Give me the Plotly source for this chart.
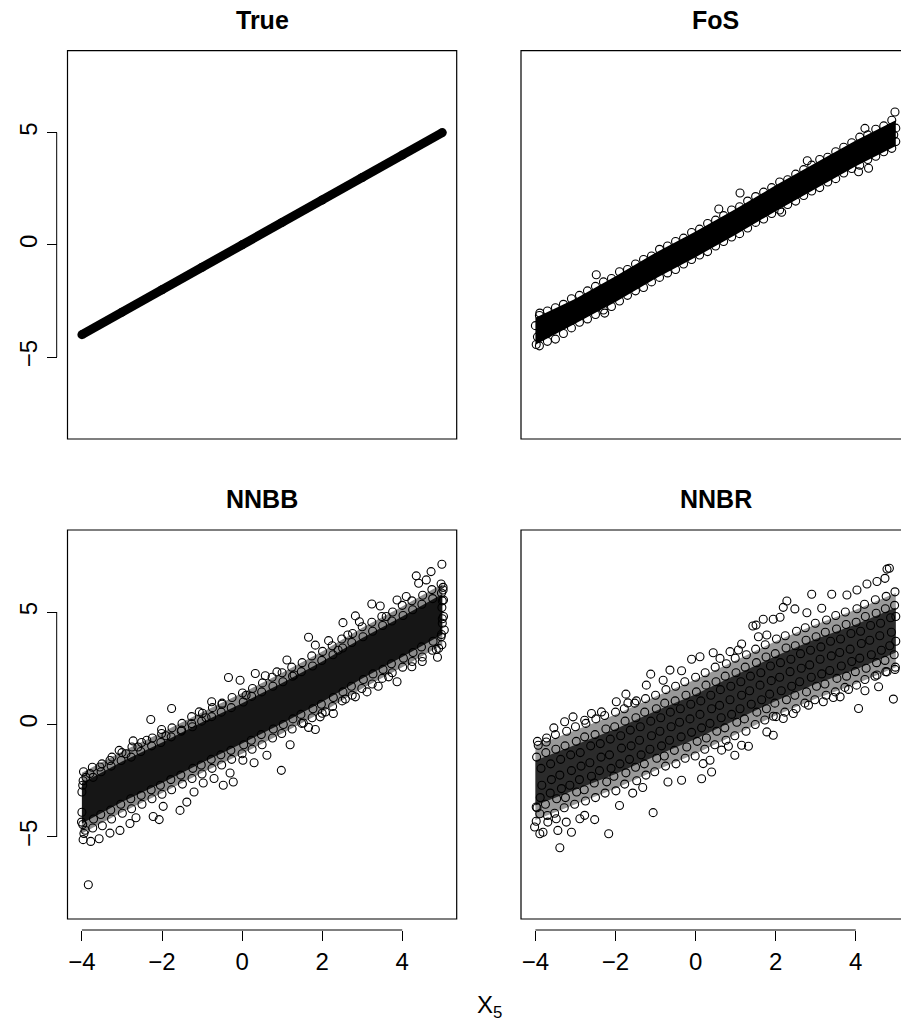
import plotly.graph_objects as go

W, H = 901, 1025

# ---------------- data ----------------
true_x = [-4, -3, -2, -1, 0, 1, 2, 3, 4, 5]
true_y = [-4, -3, -2, -1, 0, 1, 2, 3, 4, 5]

band_x = [-4, -3, -2, -1, 0, 1, 2, 3, 4, 5]

# FoS: solid core of overlapping circles, and the circles along / outside its edges
fos_lo = [-4.45, -3.5, -2.55, -1.5, -0.55, 0.45, 1.5, 2.5, 3.5, 4.4]
fos_hi = [-3.25, -2.4, -1.4, -0.35, 0.6, 1.6, 2.65, 3.65, 4.65, 5.55]
fos_pts = [
    (-3.9, -3.15), (-3.7, -2.95), (-3.5, -2.8), (-3.3, -2.65), (-3.1, -2.4), (-2.9, -2.25),
    (-2.7, -2.05), (-2.5, -1.85), (-2.3, -1.65), (-2.1, -1.5), (-1.9, -1.2), (-1.7, -1.1),
    (-1.5, -0.85), (-1.3, -0.65), (-1.1, -0.5), (-0.9, -0.2), (-0.7, -0.05), (-0.5, 0.15),
    (-0.3, 0.3), (-0.1, 0.55), (0.1, 0.7), (0.3, 0.95), (0.5, 1.1), (0.7, 1.3), (0.9, 1.55),
    (1.1, 1.7), (1.3, 1.95), (1.5, 2.15), (1.7, 2.35), (1.9, 2.55), (2.1, 2.8), (2.3, 2.9),
    (2.5, 3.15), (2.7, 3.35), (2.9, 3.55), (3.1, 3.8), (3.3, 3.9), (3.5, 4.15), (3.7, 4.35),
    (3.9, 4.55), (4.1, 4.8), (4.3, 4.9), (4.5, 5.15), (4.7, 5.3), (4.9, 5.55),
    (-3.9, -4.5), (-3.7, -4.3), (-3.5, -4.2), (-3.3, -3.95), (-3.1, -3.7), (-2.9, -3.45),
    (-2.7, -3.3), (-2.5, -3.1), (-2.3, -2.9), (-2.1, -2.75), (-1.9, -2.5), (-1.7, -2.25),
    (-1.5, -2.05), (-1.3, -1.9), (-1.1, -1.65), (-0.9, -1.45), (-0.7, -1.25), (-0.5, -1.1),
    (-0.3, -0.85), (-0.1, -0.65), (0.1, -0.45), (0.3, -0.3), (0.5, -0.05), (0.7, 0.15),
    (0.9, 0.35), (1.1, 0.5), (1.3, 0.75), (1.5, 1.0), (1.7, 1.15), (1.9, 1.4), (2.1, 1.55),
    (2.3, 1.8), (2.5, 1.95), (2.7, 2.2), (2.9, 2.4), (3.1, 2.55), (3.3, 2.8), (3.5, 2.95),
    (3.7, 3.2), (3.9, 3.4), (4.1, 3.55), (4.3, 3.8), (4.5, 3.95), (4.7, 4.15), (4.9, 4.3),
    (1.11, 2.31), (0.58, 1.6), (2.79, 3.75), (2.15, 1.45), (4.07, 3.26), (4.32, 3.41),
    (4.98, 5.92), (4.23, 5.19), (-2.48, -1.33), (-2.27, -3.04), (-3.98, -4.44), (-3.89, -3.04),
    (5.0, 4.6), (5.0, 5.2), (4.95, 4.9), (-4.0, -3.6), (-3.95, -4.1),
]

# NNBB: dense core (inner), looser zone (outer), circles at the edges and outliers
nnbb_in_lo = [-4.4, -3.45, -2.6, -1.7, -0.85, 0.05, 1.0, 2.05, 3.0, 4.0]
nnbb_in_hi = [-2.6, -1.65, -0.8, 0.1, 0.95, 1.85, 2.8, 3.85, 4.8, 5.8]
nnbb_out_lo = [-4.85, -3.9, -3.05, -2.15, -1.3, -0.4, 0.55, 1.6, 2.55, 3.55]
nnbb_out_hi = [-2.15, -1.2, -0.35, 0.55, 1.4, 2.3, 3.25, 4.3, 5.25, 6.25]
nnbb_pts = [
    (-3.8, -2.18), (-3.55, -1.89), (-3.3, -1.6), (-3.07, -1.15), (-2.9, -1.3), (-2.72, -0.73),
    (-2.6, -1.0), (-2.38, -0.70), (-2.28, 0.22), (-2.01, -0.22), (-1.9, -0.5), (-1.76, 0.71),
    (-1.51, -0.25), (-1.26, 0.04), (-1.07, 0.56), (-0.9, 0.3), (-0.76, 1.01), (-0.5, 0.9),
    (-0.34, 2.09), (-0.05, 1.97), (0.1, 1.3), (0.33, 2.27), (0.58, 2.17), (0.87, 2.34),
    (1.12, 2.87), (1.3, 2.2), (1.66, 3.88), (1.83, 3.53), (2.16, 3.73), (2.4, 3.3), (2.52, 4.53),
    (2.64, 3.98), (2.83, 4.83), (2.93, 4.57), (3.24, 5.36), (3.45, 5.27), (3.6, 4.8), (3.87, 5.54),
    (4.1, 5.69), (4.35, 6.61), (4.41, 6.28), (4.6, 6.43), (4.72, 6.8), (4.99, 7.13), (5.02, 5.98),
    (5.03, 5.54), (5.03, 4.8),
    (-3.84, -7.13), (-3.97, -5.12), (-3.78, -5.2), (-3.57, -5.08), (-4.01, -4.34), (-3.3, -4.83),
    (-3.05, -4.71), (-2.8, -4.4), (-2.65, -4.15), (-2.22, -4.09), (-2.07, -4.23), (-1.97, -3.64),
    (-1.55, -3.82), (-1.38, -3.45), (-1.2, -3.0), (-0.97, -2.6), (-0.7, -2.4), (-0.47, -2.7),
    (-0.3, -2.16), (-0.22, -2.56), (0.02, -1.59), (0.3, -1.7), (0.62, -1.37), (0.98, -2.04),
    (1.2, -0.9), (1.53, 0.07), (1.66, -0.13), (1.83, -0.22), (1.95, 0.34), (2.08, 0.56),
    (2.28, 0.49), (2.58, 1.13), (2.83, 1.23), (3.12, 1.45), (3.4, 1.7), (3.66, 2.12), (3.87, 1.9),
    (4.24, 2.57), (4.5, 2.8), (4.85, 3.34), (4.88, 2.99), (4.91, 3.39), (5.05, 4.2),
]
nnbb_edge = [
    (-3.97, -2.5), (-3.96, -2.1), (-3.98, -4.45), (-3.95, -4.85), (-3.9, -2.35), (-3.92, -4.7),
    (-3.72, -2.35), (-3.74, -1.9), (-3.71, -4.2), (-3.73, -4.6), (-3.52, -2.1), (-3.5, -1.75),
    (-3.53, -4.0), (-3.49, -4.5), (-3.27, -1.85), (-3.25, -1.45), (-3.28, -3.8), (-3.26, -4.2),
    (-3.02, -1.6), (-3.0, -1.25), (-3.03, -3.55), (-2.99, -3.95), (-2.77, -1.45), (-2.75, -1.0),
    (-2.78, -3.3), (-2.76, -3.75), (-2.53, -1.2), (-2.51, -0.8), (-2.52, -3.15), (-2.5, -3.55),
    (-2.26, -0.95), (-2.24, -0.6), (-2.27, -2.9), (-2.25, -3.3), (-2.03, -0.8), (-2.01, -0.4),
    (-2.04, -2.7), (-2.0, -3.1), (-1.77, -0.55), (-1.75, -0.15), (-1.78, -2.45), (-1.76, -2.9),
    (-1.52, -0.3), (-1.5, 0.05), (-1.53, -2.25), (-1.49, -2.65), (-1.24, -0.1), (-1.26, 0.35),
    (-1.23, -1.95), (-1.25, -2.4), (-1.01, 0.15), (-0.99, 0.5), (-1.02, -1.8), (-1.0, -2.2),
    (-0.76, 0.35), (-0.74, 0.75), (-0.77, -1.55), (-0.75, -1.95), (-0.52, 0.55), (-0.5, 0.95),
    (-0.53, -1.35), (-0.51, -1.8), (-0.27, 0.75), (-0.25, 1.2), (-0.28, -1.15), (-0.26, -1.55),
    (0.03, 1.0), (0.01, 1.4), (0.04, -0.9), (0.0, -1.3), (0.24, 1.25), (0.26, 1.6),
    (0.23, -0.7), (0.25, -1.1), (0.49, 1.45), (0.51, 1.85), (0.48, -0.45), (0.5, -0.9),
    (0.77, 1.7), (0.75, 2.1), (0.78, -0.2), (0.76, -0.6), (1.02, 1.9), (1.0, 2.3),
    (1.03, 0.0), (0.99, -0.4), (1.26, 2.15), (1.24, 2.55), (1.27, 0.25), (1.25, -0.2),
    (1.48, 2.35), (1.5, 2.75), (1.47, 0.45), (1.49, 0.05), (1.76, 2.6), (1.74, 3.05),
    (1.77, 0.7), (1.75, 0.3), (1.99, 2.85), (2.01, 3.25), (1.98, 0.9), (2.0, 0.5),
    (2.27, 3.1), (2.25, 3.5), (2.28, 1.2), (2.26, 0.8), (2.51, 3.4), (2.49, 3.8),
    (2.52, 1.45), (2.5, 1.05), (2.74, 3.65), (2.76, 4.05), (2.73, 1.7), (2.75, 1.3),
    (3.02, 3.9), (3.0, 4.35), (3.03, 2.0), (2.99, 1.6), (3.26, 4.15), (3.24, 4.55),
    (3.27, 2.25), (3.25, 1.8), (3.51, 4.4), (3.49, 4.8), (3.52, 2.45), (3.5, 2.05),
    (3.74, 4.6), (3.76, 5.0), (3.73, 2.7), (3.75, 2.3), (4.02, 4.85), (4.0, 5.3),
    (4.03, 2.95), (4.01, 2.55), (4.26, 5.1), (4.24, 5.5), (4.27, 3.2), (4.25, 2.8),
    (4.49, 5.35), (4.51, 5.75), (4.48, 3.45), (4.5, 3.0), (4.76, 5.6), (4.74, 6.0),
    (4.77, 3.7), (4.75, 3.3), (4.98, 5.85), (4.97, 6.25), (4.99, 5.2), (5.0, 4.5),
    (4.98, 4.0), (4.97, 3.9), (4.99, 3.55), (5.0, 4.7), (5.0, 5.5), (5.02, 6.1),
    (-4.0, -3.0), (-4.0, -3.9), (-3.98, -2.7),
]

# NNBR: dense core (inner), looser zone (outer), circles inside, at the edges and outliers
nnbr_in_lo = [-3.6, -2.9, -2.2, -1.4, -0.65, 0.2, 1.05, 1.8, 2.45, 3.2]
nnbr_in_hi = [-1.6, -0.9, -0.2, 0.6, 1.35, 2.2, 3.05, 3.8, 4.45, 5.2]
nnbr_out_lo = [-4.25, -3.55, -2.85, -2.05, -1.3, -0.45, 0.4, 1.15, 1.8, 2.55]
nnbr_out_hi = [-0.95, -0.25, 0.45, 1.25, 2.0, 2.85, 3.7, 4.45, 5.1, 5.85]
nnbr_pts = [
    (-3.93, -0.92), (-3.73, -0.78), (-3.54, -0.15), (-3.27, 0.12), (-3.06, 0.34), (-2.77, 0.19),
    (-2.6, 0.49), (-2.35, 0.56), (-1.98, 1.01), (-1.74, 1.35), (-1.69, 0.96), (-1.48, 1.05),
    (-1.23, 1.75), (-1.12, 2.24), (-0.81, 1.97), (-0.64, 2.42), (-0.35, 2.39), (-0.1, 2.9),
    (0.11, 3.01), (0.44, 3.19), (0.61, 2.94), (0.86, 3.24), (1.07, 3.31), (1.15, 3.58),
    (1.43, 4.38), (1.51, 4.42), (1.57, 3.9), (1.69, 4.68), (1.78, 3.98), (1.94, 4.68),
    (2.11, 4.77), (2.19, 5.21), (2.28, 5.49), (2.48, 5.14), (2.78, 4.97), (2.9, 5.79),
    (3.15, 5.17), (3.4, 5.79), (3.78, 5.76), (4.03, 5.98), (4.28, 6.25), (4.53, 6.36),
    (4.73, 6.5), (4.78, 6.91), (4.84, 6.95),
    (-4.02, -4.56), (-3.98, -3.67), (-3.89, -3.97), (-3.89, -4.86), (-3.81, -4.79), (-3.69, -4.34),
    (-3.48, -4.19), (-3.44, -4.71), (-3.39, -5.48), (-3.23, -4.34), (-3.1, -4.79), (-2.89, -4.19),
    (-2.77, -4.04), (-2.52, -4.23), (-2.17, -4.86), (-1.9, -3.6), (-1.57, -3.05), (-1.32, -2.8),
    (-1.06, -3.92), (-0.69, -2.56), (-0.35, -2.48), (0.15, -2.41), (0.19, -1.74), (0.36, -1.59),
    (0.4, -2.11), (0.65, -1.14), (0.82, -0.97), (0.98, -1.37), (1.15, -0.92), (1.32, -0.97),
    (1.78, -0.33), (1.94, -0.48), (1.94, 0.37), (2.19, 0.27), (2.44, 0.49), (2.82, 0.86),
    (3.19, 1.01), (3.44, 1.2), (3.61, 1.23), (3.82, 1.56), (4.07, 0.71), (4.23, 1.5),
    (4.57, 1.68), (4.53, 2.2), (4.78, 2.34), (4.94, 1.13), (4.98, 2.45),
]
nnbr_edge = [
    (-3.97, -1.45), (-3.95, -0.75), (-3.96, -3.7), (-3.98, -4.3), (-3.74, -1.25), (-3.72, -0.6),
    (-3.75, -3.55), (-3.7, -4.05), (-3.49, -1.1), (-3.5, -0.45), (-3.47, -3.3), (-3.52, -3.95),
    (-3.26, -0.95), (-3.22, -0.3), (-3.25, -3.25), (-3.28, -3.7), (-2.98, -0.75), (-3.0, -0.1),
    (-2.97, -3.0), (-3.02, -3.55), (-2.77, -0.55), (-2.74, 0.05), (-2.78, -2.9), (-2.75, -3.4),
    (-2.51, -0.45), (-2.49, 0.25), (-2.53, -2.6), (-2.5, -3.25), (-2.24, -0.2), (-2.27, 0.4),
    (-2.22, -2.55), (-2.26, -3.05), (-2.02, -0.1), (-2.0, 0.55), (-2.04, -2.3), (-1.99, -2.95),
    (-1.76, 0.15), (-1.78, 0.7), (-1.74, -2.15), (-1.77, -2.65), (-1.49, 0.3), (-1.52, 0.95),
    (-1.5, -1.9), (-1.47, -2.5), (-1.27, 0.55), (-1.25, 1.15), (-1.28, -1.75), (-1.24, -2.25),
    (-0.98, 0.7), (-1.0, 1.3), (-0.97, -1.5), (-1.02, -2.1), (-0.77, 0.95), (-0.74, 1.55),
    (-0.78, -1.4), (-0.75, -1.85), (-0.51, 1.05), (-0.5, 1.7), (-0.53, -1.15), (-0.49, -1.75),
    (-0.24, 1.3), (-0.27, 1.9), (-0.22, -1.0), (-0.26, -1.5), (0.02, 1.45), (0.0, 2.1),
    (0.04, -0.75), (-0.01, -1.4), (0.26, 1.75), (0.24, 2.3), (0.27, -0.6), (0.23, -1.1),
    (0.51, 1.9), (0.49, 2.55), (0.53, -0.3), (0.48, -0.9), (0.74, 2.15), (0.77, 2.7),
    (0.73, -0.15), (0.76, -0.7), (1.01, 2.3), (0.99, 2.95), (1.03, 0.1), (0.98, -0.5),
    (1.24, 2.55), (1.27, 3.1), (1.22, 0.25), (1.26, -0.3), (1.52, 2.75), (1.5, 3.35),
    (1.53, 0.55), (1.49, 0.0), (1.76, 3.0), (1.74, 3.55), (1.77, 0.7), (1.73, 0.2),
    (1.99, 3.15), (2.02, 3.8), (1.98, 0.95), (2.01, 0.35), (2.26, 3.4), (2.24, 3.95),
    (2.27, 1.1), (2.23, 0.55), (2.49, 3.5), (2.52, 4.15), (2.48, 1.3), (2.51, 0.7),
    (2.76, 3.75), (2.74, 4.3), (2.77, 1.45), (2.73, 0.95), (3.01, 3.9), (2.99, 4.5),
    (3.02, 1.7), (2.98, 1.1), (3.24, 4.1), (3.27, 4.65), (3.23, 1.8), (3.26, 1.3),
    (3.52, 4.25), (3.5, 4.85), (3.53, 2.05), (3.49, 1.45), (3.76, 4.45), (3.74, 5.0),
    (3.77, 2.15), (3.73, 1.65), (4.01, 4.55), (4.03, 5.15), (3.99, 2.35), (4.02, 1.75),
    (4.24, 4.8), (4.22, 5.35), (4.26, 2.5), (4.23, 2.0), (4.51, 4.95), (4.49, 5.55),
    (4.52, 2.75), (4.48, 2.15), (4.74, 5.15), (4.76, 5.7), (4.73, 2.85), (4.75, 2.35),
    (4.97, 5.3), (4.98, 5.9), (4.96, 3.1), (4.99, 2.55), (5.0, 4.8), (5.0, 3.7),
]
nnbr_core = [
    (-3.86, -1.95), (-3.84, -2.7), (-3.88, -3.25), (-3.62, -1.75), (-3.6, -2.45), (-3.63, -3.05),
    (-3.37, -1.55), (-3.39, -2.25), (-3.35, -2.85), (-3.12, -1.35), (-3.1, -2.05), (-3.14, -2.7),
    (-2.88, -1.25), (-2.86, -1.85), (-2.9, -2.45), (-2.62, -0.95), (-2.64, -1.7), (-2.6, -2.3),
    (-2.38, -0.85), (-2.36, -1.45), (-2.4, -2.05), (-2.13, -0.65), (-2.15, -1.35), (-2.11, -1.95),
    (-1.87, -0.5), (-1.85, -1.05), (-1.89, -1.75), (-1.63, -0.25), (-1.61, -0.95), (-1.65, -1.55),
    (-1.38, -0.1), (-1.4, -0.7), (-1.36, -1.35), (-1.12, 0.15), (-1.1, -0.5), (-1.14, -1.1),
    (-0.87, 0.3), (-0.89, -0.3), (-0.85, -0.95), (-0.63, 0.55), (-0.61, -0.1), (-0.65, -0.7),
    (-0.38, 0.7), (-0.4, 0.1), (-0.36, -0.55), (-0.12, 0.9), (-0.14, 0.25), (-0.1, -0.35),
    (0.13, 1.05), (0.11, 0.45), (0.15, -0.15), (0.38, 1.3), (0.4, 0.7), (0.36, 0.05),
    (0.62, 1.55), (0.6, 0.85), (0.64, 0.3), (0.88, 1.7), (0.86, 1.1), (0.9, 0.45),
    (1.13, 1.9), (1.15, 1.3), (1.11, 0.7), (1.37, 2.15), (1.35, 1.5), (1.39, 0.9),
    (1.63, 2.3), (1.61, 1.75), (1.65, 1.1), (1.87, 2.6), (1.89, 1.95), (1.85, 1.35),
    (2.12, 2.75), (2.1, 2.1), (2.14, 1.5), (2.38, 2.9), (2.36, 2.35), (2.4, 1.7),
    (2.62, 3.15), (2.64, 2.5), (2.6, 1.9), (2.87, 3.3), (2.85, 2.65), (2.89, 2.1),
    (3.13, 3.45), (3.11, 2.9), (3.15, 2.25), (3.37, 3.7), (3.39, 3.05), (3.35, 2.4),
    (3.62, 3.8), (3.6, 3.2), (3.64, 2.6), (3.88, 4.05), (3.86, 3.35), (3.9, 2.8),
    (4.12, 4.15), (4.14, 3.6), (4.1, 2.95), (4.37, 4.4), (4.35, 3.75), (4.39, 3.1),
    (4.62, 4.5), (4.6, 3.95), (4.64, 3.3), (4.87, 4.75), (4.89, 4.1), (4.85, 3.5),
]

titles = ["True", "FoS", "NNBB", "NNBR"]
y_ticks = [-5, 0, 5]
y_ticktext = ["\u22125", "0", "5"]
x_ticks = [-4, -2, 0, 2, 4]
x_ticktext = ["\u22124", "\u22122", "0", "2", "4"]
x_label = "X<sub>5</sub>"

# ---------------- layout geometry (pixels) ----------------
FONT = "Liberation Sans, Arial, Helvetica, sans-serif"
L_left, L_right = 67.5, 456.7
R_left, R_right = 521.0, 910.0
T_top, T_bot = 50.7, 439.0
B_top, B_bot = 530.0, 919.0
XR_L = [-4.36, 5.36]
XR_R = [-4.36, -4.36 + (W - R_left) / (L_right - L_left) * 9.72]
YR = [-8.65, 8.65]


def px(v):
    return v / W


def py(v):
    return 1 - v / H


fig = go.Figure()


def band(lo, hi, color, xa, ya):
    fig.add_trace(go.Scatter(
        x=band_x + band_x[::-1], y=hi + lo[::-1], mode="lines", fill="toself",
        fillcolor=color, line=dict(width=0), hoverinfo="skip", showlegend=False,
        xaxis=xa, yaxis=ya))


def pts(points, xa, ya):
    fig.add_trace(go.Scatter(
        x=[p[0] for p in points], y=[p[1] for p in points], mode="markers",
        marker=dict(symbol="circle-open", size=8, color="black", line=dict(width=1.1, color="black")),
        hoverinfo="skip", showlegend=False, xaxis=xa, yaxis=ya))


# True panel
fig.add_trace(go.Scatter(x=true_x, y=true_y, mode="lines+markers",
                         line=dict(color="black", width=9),
                         marker=dict(symbol="circle", size=9, color="black"),
                         hoverinfo="skip", showlegend=False, xaxis="x", yaxis="y"))
# FoS panel
band(fos_lo, fos_hi, "black", "x2", "y2")
pts(fos_pts, "x2", "y2")
# NNBB panel
band(nnbb_out_lo, nnbb_out_hi, "rgba(0,0,0,0.45)", "x3", "y3")
band(nnbb_in_lo, nnbb_in_hi, "rgba(0,0,0,0.84)", "x3", "y3")
pts(nnbb_edge + nnbb_pts, "x3", "y3")
# NNBR panel
band(nnbr_out_lo, nnbr_out_hi, "rgba(0,0,0,0.4)", "x4", "y4")
band(nnbr_in_lo, nnbr_in_hi, "rgba(0,0,0,0.72)", "x4", "y4")
pts(nnbr_core + nnbr_edge + nnbr_pts, "x4", "y4")

hidden = dict(showgrid=False, zeroline=False, showline=False, showticklabels=False, ticks="")
tickfont = dict(family=FONT, size=24, color="black")

yax_ticks = dict(showgrid=False, zeroline=False, showline=False, ticks="outside", ticklen=10,
                 tickwidth=1, tickcolor="black", tickvals=y_ticks, ticktext=y_ticktext,
                 tickangle=-90, tickfont=tickfont, range=YR, anchor="free")
xax_ticks = dict(showgrid=False, zeroline=False, showline=False, ticks="outside", ticklen=10,
                 tickwidth=1, tickcolor="black", tickvals=x_ticks, ticktext=x_ticktext,
                 tickfont=tickfont, anchor="free")

fig.update_layout(
    width=W, height=H, margin=dict(l=0, r=0, t=0, b=0),
    paper_bgcolor="white", plot_bgcolor="white",
    xaxis=dict(domain=[px(L_left), px(L_right)], range=XR_L, anchor="y", **hidden),
    yaxis=dict(domain=[py(T_bot), py(T_top)], position=px(56.7), **yax_ticks),
    xaxis2=dict(domain=[px(R_left), 1], range=XR_R, anchor="y2", **hidden),
    yaxis2=dict(domain=[py(T_bot), py(T_top)], range=YR, anchor="x2", **hidden),
    xaxis3=dict(domain=[px(L_left), px(L_right)], range=XR_L, position=py(930), **xax_ticks),
    yaxis3=dict(domain=[py(B_bot), py(B_top)], position=px(56.7), **yax_ticks),
    xaxis4=dict(domain=[px(R_left), 1], range=XR_R, position=py(930), **xax_ticks),
    yaxis4=dict(domain=[py(B_bot), py(B_top)], range=YR, anchor="x4", **hidden),
)

shapes = []
for (x0, x1) in [(L_left, L_right), (R_left, R_right)]:
    for (y0, y1) in [(T_top, T_bot), (B_top, B_bot)]:
        shapes.append(dict(type="rect", xref="paper", yref="paper", x0=px(x0), x1=px(x1),
                           y0=py(y1), y1=py(y0), line=dict(color="black", width=1.2)))
for ya in ["y", "y3"]:
    shapes.append(dict(type="line", xref="paper", yref=ya, x0=px(56.7), x1=px(56.7),
                       y0=y_ticks[0], y1=y_ticks[-1], line=dict(color="black", width=1)))
for xa in ["x3", "x4"]:
    shapes.append(dict(type="line", xref=xa, yref="paper", x0=x_ticks[0], x1=x_ticks[-1],
                       y0=py(930), y1=py(930), line=dict(color="black", width=1)))
fig.update_layout(shapes=shapes)

annotations = []
title_pos = [((L_left + L_right) / 2, 19.5), ((R_left + R_right) / 2, 19.5),
             ((L_left + L_right) / 2, 499), ((R_left + R_right) / 2, 499)]
for t, (cx, cy) in zip(titles, title_pos):
    annotations.append(dict(text="<b>%s</b>" % t, xref="paper", yref="paper", x=px(cx), y=py(cy),
                            xanchor="center", yanchor="middle", showarrow=False,
                            font=dict(family=FONT, size=25, color="black")))
annotations.append(dict(text=x_label, xref="paper", yref="paper", x=px(489), y=py(1006),
                        xanchor="center", yanchor="middle", showarrow=False,
                        font=dict(family=FONT, size=24, color="black")))
fig.update_layout(annotations=annotations)

fig.write_html("out.html")
